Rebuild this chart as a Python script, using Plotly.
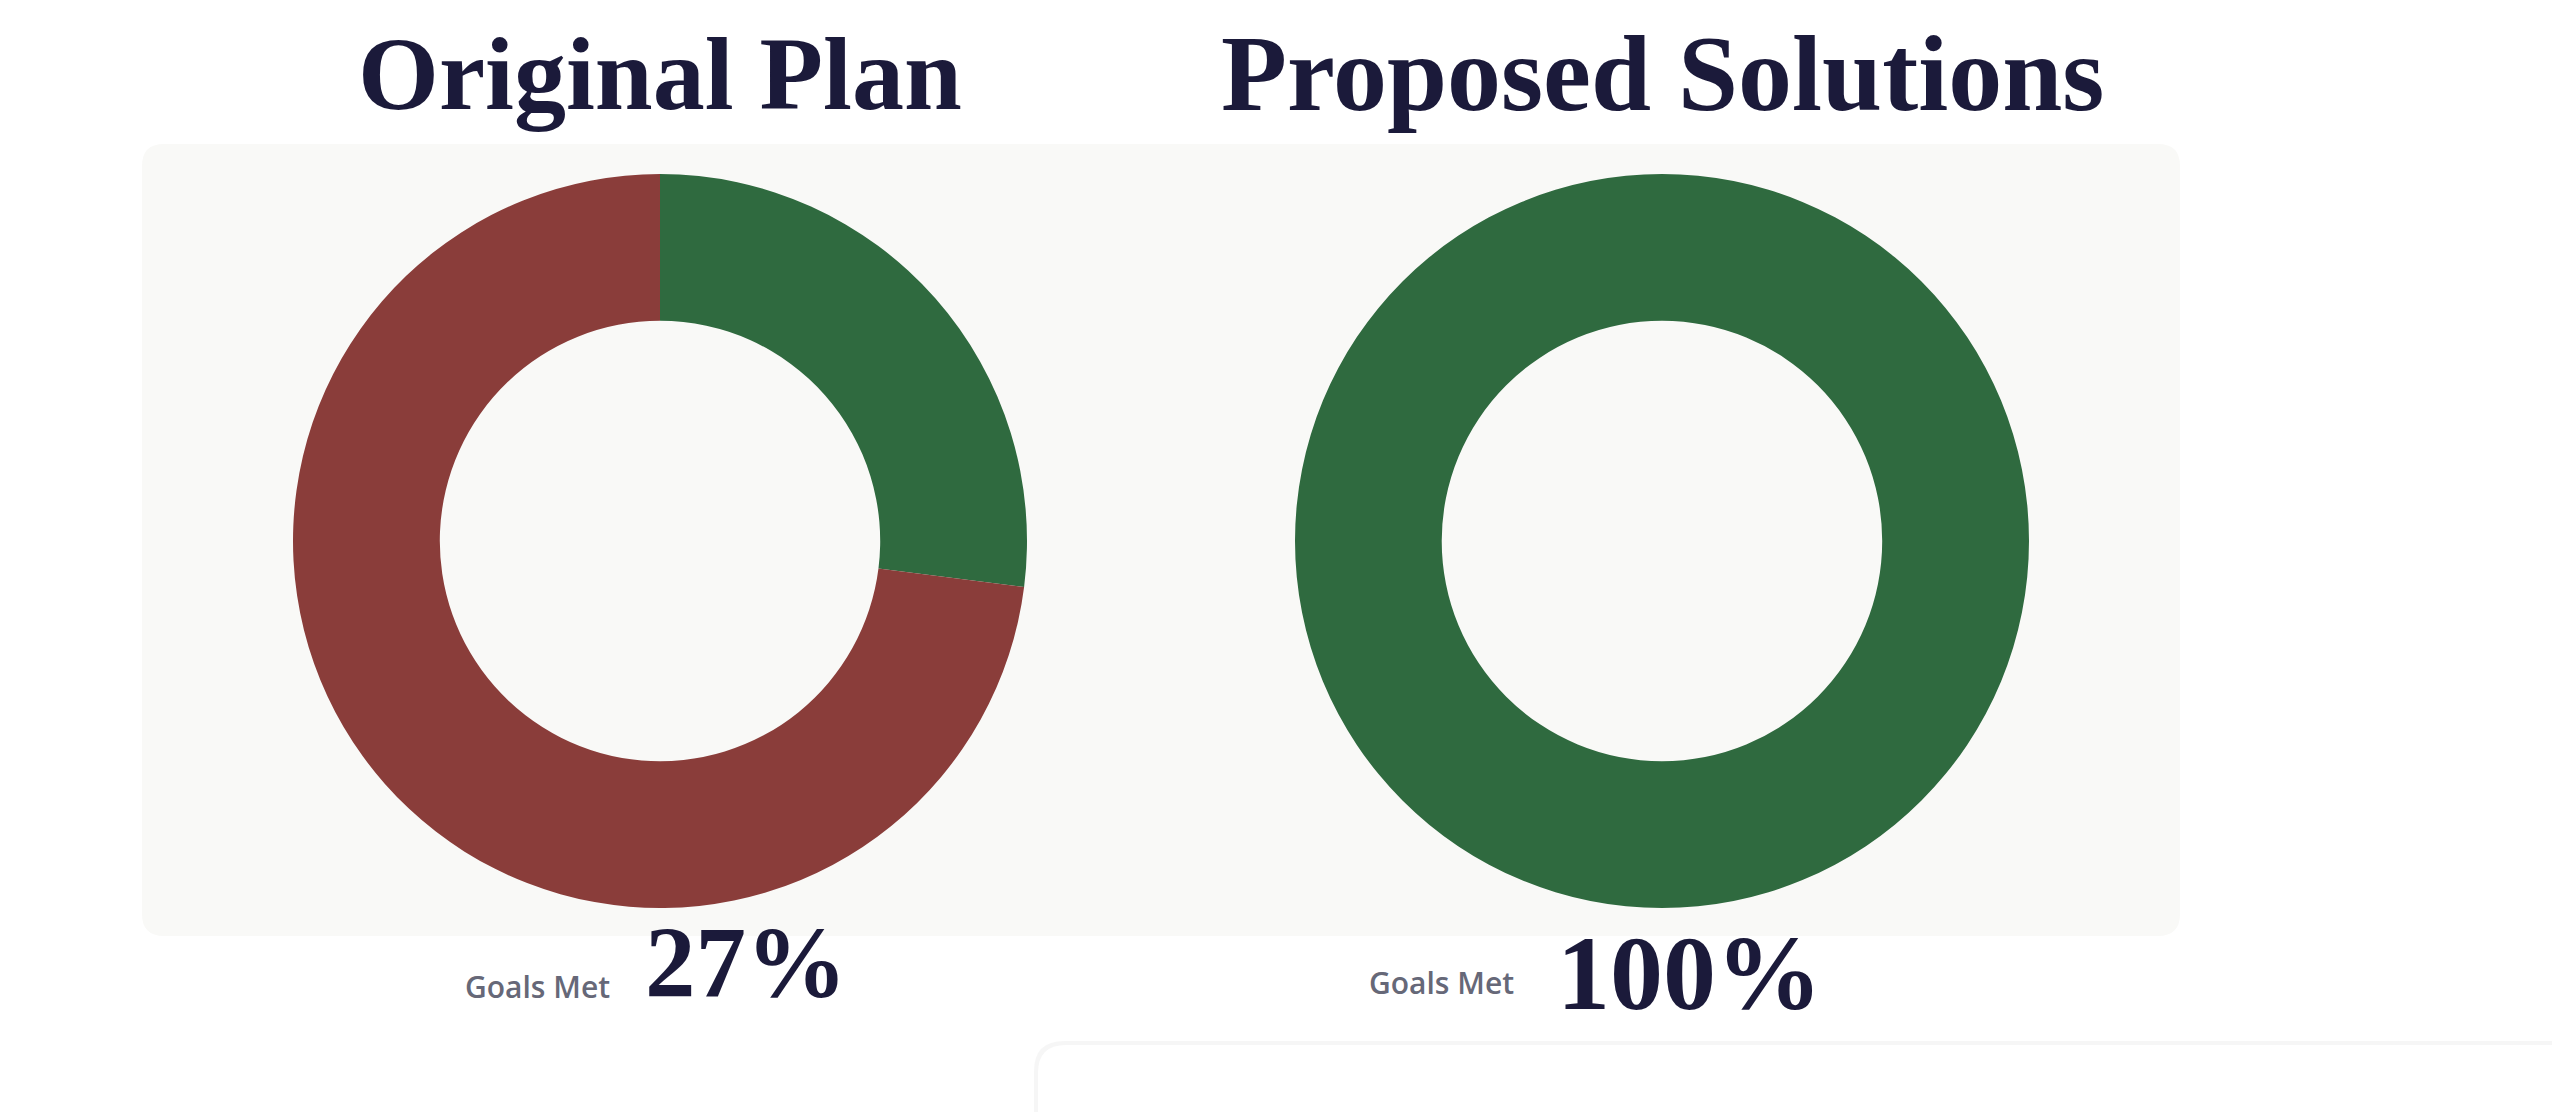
import plotly.graph_objects as go

W, H = 2560, 1112
OFF = 8  # page body margin; positions below are screen pixels

# data
titles = ["Original Plan", "Proposed Solutions"]
slice_labels = ["Goals Met", "Goals Not Met"]
original_values = [27, 73]
proposed_values = [100, 0]
goals_met_text = ["27%", "100%"]

GREEN = "#2f6a3f"
RED = "#8a3d3a"
NAVY = "#1b1a3a"
PANEL = "#f9f9f7"


def fx(v):
    return (v - OFF) / W


def fy(v):
    return 1 - (v - OFF) / H


def rounded_rect(x0, y0, x1, y1, r):
    # pixel box (top-left origin) -> svg path in paper coords
    pts = [
        ("M", x0 + r, y0), ("L", x1 - r, y0), ("Q", x1, y0, x1, y0 + r),
        ("L", x1, y1 - r), ("Q", x1, y1, x1 - r, y1), ("L", x0 + r, y1),
        ("Q", x0, y1, x0, y1 - r), ("L", x0, y0 + r), ("Q", x0, y0, x0 + r, y0),
    ]
    out = []
    for p in pts:
        if p[0] == "Q":
            out.append("Q %.5f,%.5f %.5f,%.5f" % (fx(p[1]), fy(p[2]), fx(p[3]), fy(p[4])))
        else:
            out.append("%s %.5f,%.5f" % (p[0], fx(p[1]), fy(p[2])))
    return " ".join(out) + " Z"


centers = [660, 1662]
cy = 541
r = 367

fig = go.Figure()
for cx, vals in zip(centers, [original_values, proposed_values]):
    fig.add_trace(go.Pie(
        labels=slice_labels,
        values=vals,
        hole=0.6,
        sort=False,
        direction="clockwise",
        rotation=0,
        textinfo="none",
        hoverinfo="label+percent",
        marker=dict(colors=[GREEN, RED], line=dict(width=0)),
        domain=dict(x=[fx(cx - r), fx(cx + r)], y=[fy(cy + r), fy(cy - r)]),
        showlegend=False,
    ))

shapes = [
    # grey panel behind donuts
    dict(type="path", xref="paper", yref="paper", path=rounded_rect(142, 144, 2180, 936, 22),
         fillcolor=PANEL, line=dict(width=0), layer="below"),
    # card peeking in at the bottom
    dict(type="path", xref="paper", yref="paper", path=rounded_rect(1034, 1041, 2640, 1200, 30),
         fillcolor="rgba(0,0,0,0.035)", line=dict(width=0), layer="above"),
    dict(type="path", xref="paper", yref="paper", path=rounded_rect(1038, 1045, 2640, 1200, 28),
         fillcolor="#ffffff", line=dict(width=0), layer="above"),
]

annotations = []
title_size = [104, 108]
for cx, t, sz in zip(centers, titles, title_size):
    annotations.append(dict(
        text="<b>%s</b>" % t, x=fx(cx), y=fy(74), xref="paper", yref="paper",
        xanchor="center", yanchor="middle", showarrow=False,
        font=dict(family="Liberation Serif, Georgia, serif", size=sz, color=NAVY),
    ))

label_x = [463, 1367]
label_y = [986, 982]
value_x = [643, 1555]
value_y = [963, 973]
value_size = [101, 106]
for lx, ly, vx, vy, vs, txt in zip(label_x, label_y, value_x, value_y, value_size, goals_met_text):
    annotations.append(dict(
        text="Goals Met", x=fx(lx), y=fy(ly), xref="paper", yref="paper",
        xanchor="left", yanchor="middle", showarrow=False,
        font=dict(family="Open Sans, sans-serif", size=30, color="#666878", weight=600),
    ))
    annotations.append(dict(
        text="<b>%s</b>" % txt, x=fx(vx), y=fy(vy), xref="paper", yref="paper",
        xanchor="left", yanchor="middle", showarrow=False,
        font=dict(family="Liberation Serif, Georgia, serif", size=vs, color=NAVY),
    ))

fig.update_layout(
    width=W, height=H,
    margin=dict(l=0, r=0, t=0, b=0),
    paper_bgcolor="#ffffff",
    plot_bgcolor="#ffffff",
    shapes=shapes,
    annotations=annotations,
)

fig.write_html("out.html")
